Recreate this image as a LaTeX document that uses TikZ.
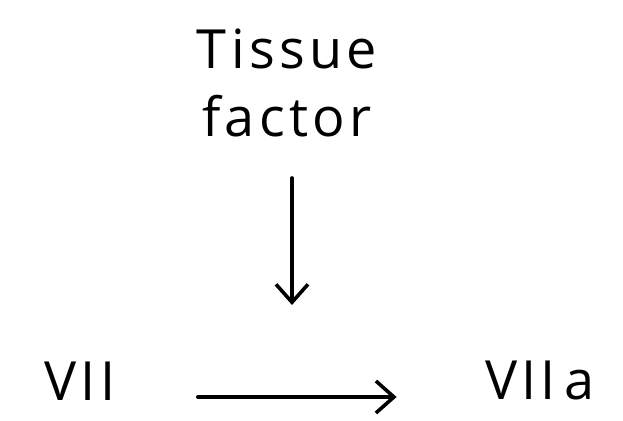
\documentclass[tikz,border=0pt]{standalone}
\usepackage{fontspec}
\setmainfont{Open Sans}
\usetikzlibrary{arrows.meta,positioning}
\tikzset{
 word/.style={font=\fontsize{27}{34}\selectfont\addfontfeature{LetterSpace=8},align=center,inner sep=0pt},
 arr/.style={-{Straight Barb[length=9pt,width=16pt,line width=1.8pt]},line width=1.8pt,line cap=round}
}
\begin{document}
\begin{tikzpicture}[x=0.5pt,y=0.5pt]
\useasboundingbox (0,0) rectangle (623,421);
\node[word] (tf) at (287,338) {Tissue\\factor};
\node[word] (vii) at (80,40) {VII};
\node[word] (viia) at (540,40) {VII\,a};
\coordinate (hit) at (292,116);
\draw[arr] (292,243) coordinate (top) -- (hit);
\draw[arr] ([yshift=-8pt,xshift=41pt]vii.east) -- ([yshift=-8pt,xshift=-44pt]viia.west);
\end{tikzpicture}
\end{document}
